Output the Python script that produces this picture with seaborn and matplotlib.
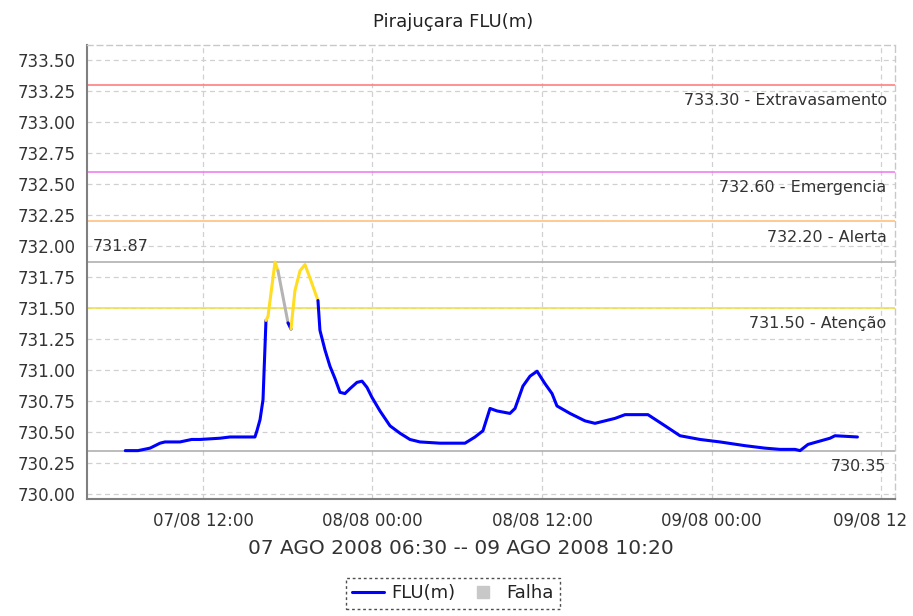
import matplotlib
matplotlib.use("Agg")
import matplotlib.pyplot as plt
from matplotlib.lines import Line2D
from matplotlib.transforms import ScaledTranslation
import seaborn as sns
import pandas as pd

# ---- data (hours since 07/08/2008 00:00, level in m) ----
hours = [6.50, 7.40, 8.25, 8.96, 9.31, 10.37, 11.20, 11.79, 13.20, 13.91, 15.68, 15.82,
         16.04, 16.25, 16.46, 16.60, 17.10, 17.31, 18.02, 18.23, 18.51, 18.87, 19.22,
         19.58, 20.14, 20.28, 20.64, 20.99, 21.35, 21.70, 22.05, 22.41, 22.90, 23.26,
         23.61, 23.96, 24.53, 25.24, 25.95, 26.65, 27.36, 28.78, 30.55, 31.26, 31.82,
         32.32, 32.81, 33.73, 34.09, 34.65, 35.15, 35.65, 36.21, 36.71, 37.06, 37.98,
         39.04, 39.75, 41.17, 41.88, 43.50, 44.71, 45.77, 47.19, 48.60, 50.37, 51.79,
         52.85, 53.91, 54.27, 54.83, 56.39, 56.74, 58.33]
level = [730.35, 730.35, 730.37, 730.41, 730.42, 730.42, 730.44, 730.44, 730.45, 730.46, 730.46, 730.51,
         730.60, 730.76, 731.40, 731.43, 731.87, 731.80, 731.38, 731.33, 731.64, 731.80, 731.85,
         731.74, 731.56, 731.32, 731.16, 731.03, 730.93, 730.82, 730.81, 730.85, 730.90, 730.91,
         730.86, 730.78, 730.67, 730.55, 730.49, 730.44, 730.42, 730.41, 730.41, 730.46, 730.51,
         730.69, 730.67, 730.65, 730.69, 730.87, 730.95, 730.99, 730.89, 730.81, 730.71, 730.65,
         730.59, 730.57, 730.61, 730.64, 730.64, 730.55, 730.47, 730.44, 730.42, 730.39, 730.37,
         730.36, 730.36, 730.35, 730.40, 730.45, 730.47, 730.46]
# status of the segment ending at each point: N normal, A atencao, F falha
status = ["N"] * 15 + ["A", "A", "A", "F", "N", "A", "A", "A", "A", "A"] + ["N"] * 49

thr_values = [733.30, 732.60, 732.20, 731.50]
thr_labels = ["733.30 - Extravasamento", "732.60 - Emergencia", "732.20 - Alerta", "731.50 - Atenção"]
thr_colors = ["#FF7F7F", "#F080F0", "#FFC080", "#F0E050"]
max_level = 731.87
min_level = 730.35

xtick_pos = [12, 24, 36, 48, 60]
xtick_labels = ["07/08 12:00", "08/08 00:00", "08/08 12:00", "09/08 00:00", "09/08 12"]
yticks = [730.00 + 0.25 * i for i in range(15)]

title = "Pirajuçara FLU(m)"
range_label = "07 AGO 2008 06:30 -- 09 AGO 2008 10:20"

# ---- styling ----
sns.set_theme(style="white")
plt.rcParams["font.family"] = ["DejaVu Sans"]

fig = plt.figure(figsize=(9.13, 6.16), dpi=100)
ax = fig.add_axes([87 / 913, 1 - 499 / 616, (895 - 87) / 913, (499 - 45) / 616])

color_map = {"N": "#0000FF", "A": "#FFDD22", "F": "#B4B4B4"}

# threshold lines
for v, c in zip(thr_values, thr_colors):
    ax.axhline(v, color=c, lw=1.2, zorder=2)
ax.axhline(max_level, color="#B0B0B0", lw=1.2, zorder=2)
ax.axhline(min_level, color="#B0B0B0", lw=1.2, zorder=2)

# data runs, grouped by status
df = pd.DataFrame({"hours": hours, "level": level, "status": status})
runs = []
start = 0
for i in range(1, len(df)):
    if i == len(df) - 1 or df.status[i + 1] != df.status[i]:
        runs.append((start, i, df.status[i]))
        start = i
for s, e, st in runs:
    sub = df.iloc[s:e + 1]
    sns.lineplot(data=sub, x="hours", y="level", color=color_map[st], lw=2.2,
                 sort=False, estimator=None, ax=ax, zorder=4)

ax.set_xlim(3.79, 60.99)
ax.set_ylim(729.96, 733.62)
ax.set_xticks(xtick_pos)
ax.set_xticklabels(xtick_labels)
ax.set_yticks(yticks)
ax.set_yticklabels([f"{v:.2f}" for v in yticks])
ax.set_xlabel("")
ax.set_ylabel("")

ax.grid(True, color="#D0D0D0", linestyle=(0, (4, 3)), lw=0.9, zorder=0)
ax.tick_params(axis="both", direction="out", length=4, width=1, color="#888888",
               labelsize=12, labelcolor="#333333", pad=4)
ax.tick_params(axis="x", pad=5)
# nudge the truncated last tick label so it stays inside the figure
lbl = ax.get_xticklabels()[-1]
lbl.set_transform(lbl.get_transform() + ScaledTranslation(-8 / 72, 0, fig.dpi_scale_trans))

for side in ["left", "bottom"]:
    ax.spines[side].set_color("#808080")
    ax.spines[side].set_linewidth(1.5)
for side in ["top", "right"]:
    ax.spines[side].set_color("#C8C8C8")
    ax.spines[side].set_linestyle((0, (4, 3)))
    ax.spines[side].set_linewidth(1.0)

# threshold labels
tkw = dict(xycoords=("axes fraction", "data"), textcoords="offset points",
           ha="right", va="center", fontsize=11.5, color="#333333")
for v, lab in zip(thr_values, thr_labels):
    ax.annotate(lab, xy=(1, v), xytext=(-6, -11.5), **tkw)
ax.annotate(f"{min_level:.2f}", xy=(1, min_level), xytext=(-6, -11.5), **tkw)
ax.annotate(f"{max_level:.2f}", xy=(0, max_level), xytext=(4, 11), xycoords=("axes fraction", "data"),
            textcoords="offset points", ha="left", va="center", fontsize=11.5, color="#333333")

fig.text(0.496, 1 - 22 / 616, title, ha="center", va="center", fontsize=13, color="#222222")
fig.text(0.505, 1 - 548 / 616, range_label, ha="center", va="center", fontsize=14.5, color="#333333")

handles = [Line2D([0], [0], color="#0000FF", lw=2.2),
           Line2D([0], [0], marker="s", color="none", markerfacecolor="#C8C8C8",
                  markeredgecolor="#C8C8C8", markersize=8)]
leg = fig.legend(handles, ["FLU(m)", "Falha"], loc="upper center",
                 bbox_to_anchor=(0.496, 1 - 578 / 616), bbox_transform=fig.transFigure,
                 ncol=2, frameon=True, fancybox=False, fontsize=13, handlelength=1.8,
                 handletextpad=0.4, columnspacing=0.6, borderpad=0.35, borderaxespad=0)
frame = leg.get_frame()
frame.set_edgecolor("#222222")
frame.set_linestyle((0, (2, 2)))
frame.set_linewidth(1.0)
for t in leg.get_texts():
    t.set_color("#222222")

fig.savefig("out.png", dpi=100, facecolor="white")
